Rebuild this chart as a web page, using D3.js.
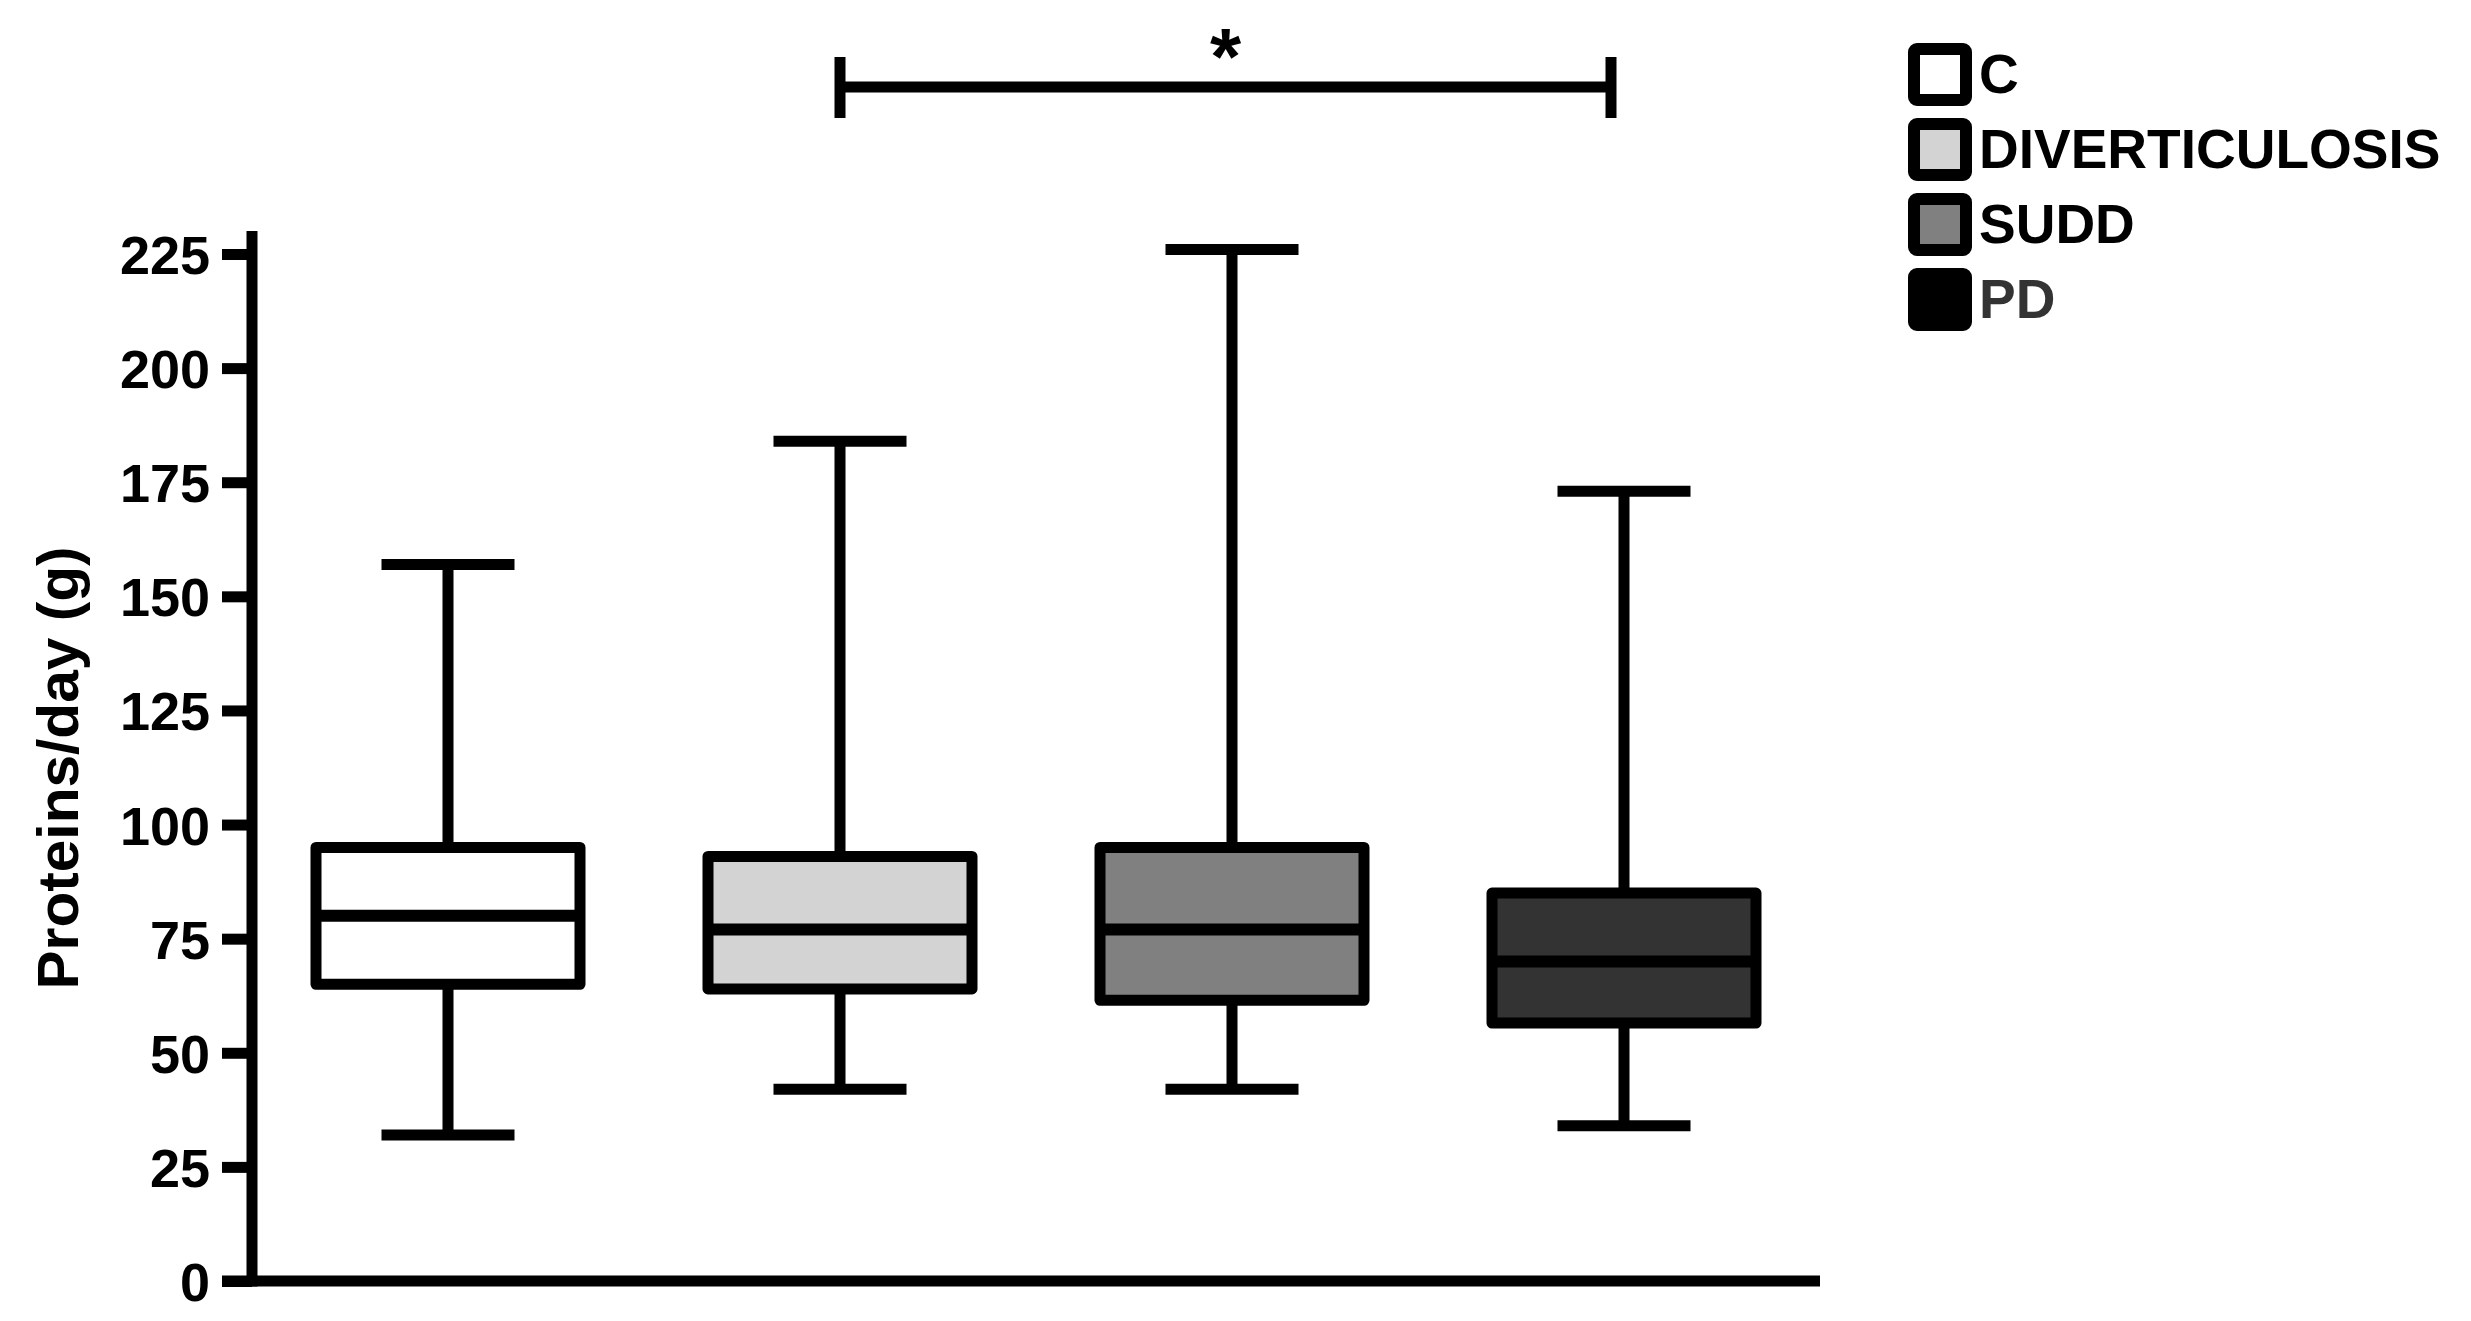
<!DOCTYPE html>
<html>
<head>
<meta charset="utf-8">
<script src="https://cdn.jsdelivr.net/npm/d3@7"></script>
<style>
  html, body { margin: 0; padding: 0; background: #fff; }
  svg { display: block; }
  text { font-family: "Liberation Sans", Arial, sans-serif; font-weight: bold; }
</style>
</head>
<body>
<svg id="chart" width="2471" height="1321"></svg>
<script>
// ---- data ----
const categories = ["C", "DIVERTICULOSIS", "SUDD", "PD"];
const mins    = [32, 42, 42, 34];
const q1s     = [65, 64, 61.5, 56.5];
const medians = [80, 77, 77, 70];
const q3s     = [95, 93, 95, 85];
const maxs    = [157, 184, 226, 173];
const fills   = ["#ffffff", "#d3d3d3", "#808080", "#333333"];
const legendFills = ["#ffffff", "#d3d3d3", "#808080", "#000000"];
const legendTextColors = ["#000000", "#000000", "#000000", "#333333"];
const yTicks  = [0, 25, 50, 75, 100, 125, 150, 175, 200, 225];
const yLabel  = "Proteins/day (g)";
const sigPair = ["DIVERTICULOSIS", "PD"];
const sigLabel = "*";

const svg = d3.select("#chart");
const lw = 11;

const x = d3.scaleBand().domain(categories).range([252, 1820]).padding(0);
const y = d3.scaleLinear().domain([0, 225]).range([1281, 254]);

const boxW = 264, capW = 133;

// ---- y axis ----
const yAxis = d3.axisLeft(y).tickValues(yTicks).tickSize(30).tickPadding(12).tickFormat(d3.format("d"));
const gy = svg.append("g").attr("transform", "translate(252,0)").call(yAxis);
gy.select(".domain").remove();
gy.selectAll(".tick line").attr("stroke", "#000").attr("stroke-width", lw);
gy.selectAll(".tick text").attr("fill", "#000").style("font-size", "54px").attr("dy", "0.36em");
svg.append("line").attr("x1", 252).attr("x2", 252).attr("y1", 231).attr("y2", y(0) + lw/2)
  .attr("stroke", "#000").attr("stroke-width", lw);

// ---- x axis ----
svg.append("line").attr("x1", 222).attr("x2", 1820).attr("y1", y(0)).attr("y2", y(0))
  .attr("stroke", "#000").attr("stroke-width", lw);

// y label
svg.append("text")
  .attr("transform", `translate(78, 768) rotate(-90)`)
  .attr("text-anchor", "middle")
  .attr("textLength", 443).attr("lengthAdjust", "spacingAndGlyphs")
  .style("font-size", "57px")
  .attr("fill", "#000")
  .text(yLabel);

// ---- boxes ----
const data = categories.map((c, i) => ({c, min: mins[i], q1: q1s[i], med: medians[i], q3: q3s[i], max: maxs[i], fill: fills[i]}));
const g = svg.append("g");
const groups = g.selectAll("g.box").data(data).join("g").attr("class", "box");
const cx = d => x(d.c) + x.bandwidth() / 2;

groups.append("line").attr("x1", cx).attr("x2", cx).attr("y1", d => y(d.max)).attr("y2", d => y(d.q3))
  .attr("stroke", "#000").attr("stroke-width", lw);
groups.append("line").attr("x1", cx).attr("x2", cx).attr("y1", d => y(d.q1)).attr("y2", d => y(d.min))
  .attr("stroke", "#000").attr("stroke-width", lw);
groups.append("line").attr("x1", d => cx(d) - capW/2).attr("x2", d => cx(d) + capW/2)
  .attr("y1", d => y(d.max)).attr("y2", d => y(d.max)).attr("stroke", "#000").attr("stroke-width", lw);
groups.append("line").attr("x1", d => cx(d) - capW/2).attr("x2", d => cx(d) + capW/2)
  .attr("y1", d => y(d.min)).attr("y2", d => y(d.min)).attr("stroke", "#000").attr("stroke-width", lw);
groups.append("rect")
  .attr("x", d => cx(d) - boxW/2).attr("width", boxW)
  .attr("y", d => y(d.q3)).attr("height", d => y(d.q1) - y(d.q3))
  .attr("fill", d => d.fill).attr("stroke", "#000").attr("stroke-width", lw).attr("stroke-linejoin", "round");
groups.append("line").attr("x1", d => cx(d) - boxW/2).attr("x2", d => cx(d) + boxW/2)
  .attr("y1", d => y(d.med)).attr("y2", d => y(d.med)).attr("stroke", "#000").attr("stroke-width", 12);

// ---- significance bracket ----
const bx1 = cx({c: sigPair[0]}), bx2 = cx({c: sigPair[1]}) - 13;
const by = 87;
svg.append("line").attr("x1", bx1).attr("x2", bx2).attr("y1", by).attr("y2", by).attr("stroke", "#000").attr("stroke-width", 11);
[bx1, bx2].forEach(xx => svg.append("line").attr("x1", xx).attr("x2", xx).attr("y1", 57).attr("y2", 118)
  .attr("stroke", "#000").attr("stroke-width", 11));
svg.append("text").attr("x", (bx1 + bx2) / 2).attr("y", 84).attr("text-anchor", "middle")
  .style("font-size", "80px").attr("fill", "#000").text(sigLabel);

// ---- legend ----
const lg = svg.append("g").selectAll("g").data(categories).join("g")
  .attr("transform", (d, i) => `translate(1908, ${43 + i * 75})`);
lg.append("rect").attr("x", 6).attr("y", 6).attr("width", 52).attr("height", 51)
  .attr("rx", 3).attr("fill", (d, i) => legendFills[i]).attr("stroke", "#000").attr("stroke-width", 12)
  .attr("stroke-linejoin", "round");
lg.append("text").attr("x", 71).attr("y", 50).style("font-size", "55px")
  .attr("fill", (d, i) => legendTextColors[i]).text(d => d);
</script>
</body>
</html>
